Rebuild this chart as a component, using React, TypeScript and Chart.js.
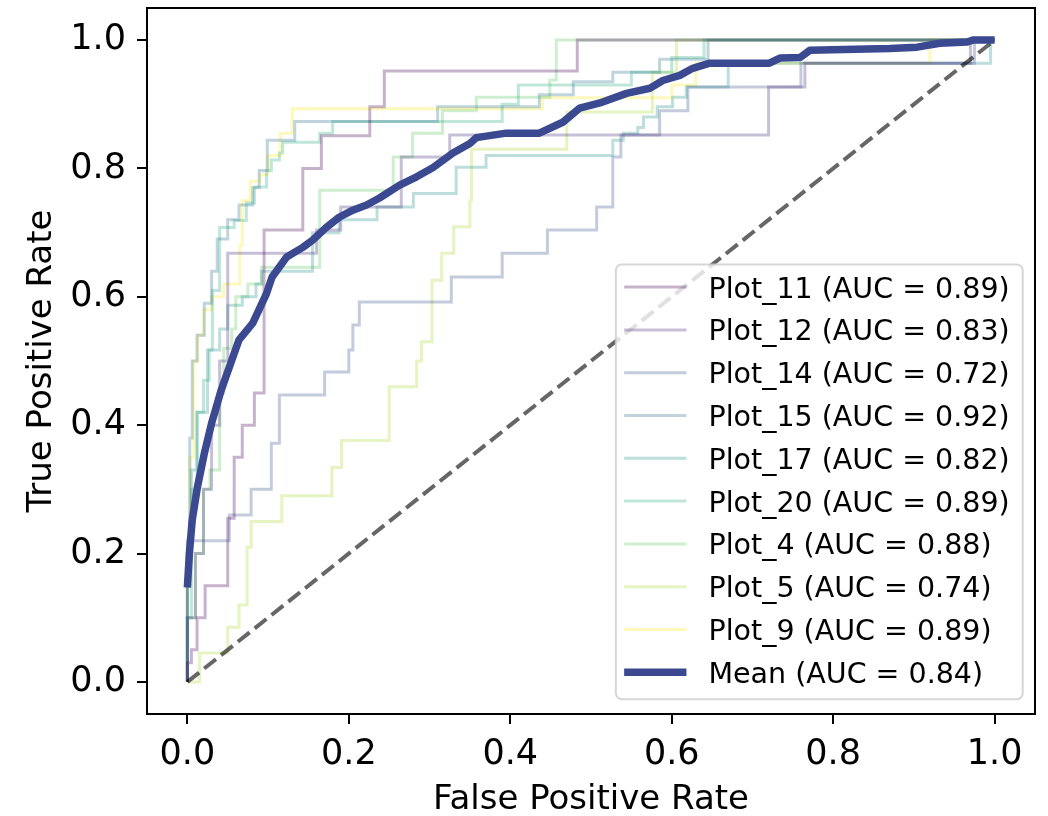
import React, { useEffect, useRef } from 'react';
import { Chart, registerables } from 'chart.js';

Chart.register(...registerables);

// ---------- data ----------
const xTickValues = [0, 0.2, 0.4, 0.6, 0.8, 1.0];
const yTickValues = [0, 0.2, 0.4, 0.6, 0.8, 1.0];

const seriesNames = ['Plot_11', 'Plot_12', 'Plot_14', 'Plot_15', 'Plot_17', 'Plot_20', 'Plot_4', 'Plot_5', 'Plot_9'];
const seriesAuc = [0.89, 0.83, 0.72, 0.92, 0.82, 0.89, 0.88, 0.74, 0.89];
const seriesColors = ['#440154', '#472c7a', '#3b528b', '#2c718e', '#21918c', '#27ad81', '#5cc863', '#aadc32', '#fde725'];

// ROC points: [fpr, tpr] after each vertical jump
const plot11 = [[0, 0], [0, 0.03], [0.005, 0.05], [0.012, 0.1], [0.022, 0.15], [0.05, 0.255], [0.058, 0.35], [0.068, 0.4], [0.083, 0.45], [0.095, 0.704], [0.143, 0.8], [0.166, 0.851], [0.226, 0.896], [0.244, 0.952], [0.483, 1.0], [1, 1]];
const plot12 = [[0, 0], [0, 0.1], [0.01, 0.2], [0.02, 0.3], [0.03, 0.4], [0.04, 0.5], [0.05, 0.668], [0.16, 0.704], [0.19, 0.74], [0.265, 0.818], [0.325, 0.852], [0.72, 0.927], [0.765, 0.964], [0.97, 1.0], [1, 1]];
const plot14 = [[0, 0], [0, 0.22], [0.052, 0.26], [0.079, 0.3], [0.104, 0.372], [0.114, 0.447], [0.17, 0.483], [0.2, 0.517], [0.205, 0.556], [0.213, 0.592], [0.327, 0.631], [0.39, 0.668], [0.446, 0.704], [0.507, 0.74], [0.527, 0.818], [0.537, 0.852], [0.585, 0.89], [0.62, 0.927], [0.76, 0.964], [0.975, 1.0], [1, 1]];
const plot15 = [[0, 0], [0, 0.2], [0.003, 0.38], [0.006, 0.5], [0.012, 0.54], [0.021, 0.59], [0.03, 0.64], [0.037, 0.69], [0.05, 0.72], [0.064, 0.743], [0.081, 0.77], [0.089, 0.797], [0.099, 0.844], [0.133, 0.873], [0.31, 0.896], [0.436, 0.915], [0.478, 0.935], [0.527, 0.95], [0.585, 0.97], [0.645, 1.0], [1, 1]];
const plot17 = [[0, 0], [0, 0.2], [0.005, 0.33], [0.012, 0.42], [0.025, 0.517], [0.04, 0.55], [0.05, 0.587], [0.068, 0.6], [0.085, 0.62], [0.092, 0.64], [0.155, 0.7], [0.188, 0.72], [0.235, 0.74], [0.28, 0.761], [0.333, 0.802], [0.37, 0.82], [0.527, 0.844], [0.54, 0.855], [0.558, 0.864], [0.565, 0.88], [0.582, 0.896], [0.601, 0.911], [0.618, 0.927], [0.67, 0.964], [0.995, 1.0], [1, 1]];
const plot20 = [[0, 0], [0, 0.1], [0.005, 0.3], [0.012, 0.42], [0.02, 0.47], [0.027, 0.517], [0.031, 0.61], [0.04, 0.708], [0.058, 0.719], [0.073, 0.746], [0.083, 0.771], [0.098, 0.797], [0.104, 0.813], [0.114, 0.824], [0.118, 0.841], [0.164, 0.855], [0.18, 0.873], [0.39, 0.9], [0.41, 0.93], [0.55, 0.95], [0.6, 0.973], [0.64, 1.0], [1, 1]];
const plot4 = [[0, 0], [0, 0.1], [0.01, 0.2], [0.02, 0.3], [0.028, 0.33], [0.04, 0.45], [0.045, 0.52], [0.055, 0.55], [0.06, 0.6], [0.075, 0.62], [0.092, 0.646], [0.164, 0.766], [0.255, 0.818], [0.279, 0.855], [0.316, 0.89], [0.358, 0.911], [0.449, 0.938], [0.457, 1.0], [1, 1]];
const plot5 = [[0, 0], [0.015, 0.045], [0.05, 0.085], [0.064, 0.12], [0.074, 0.21], [0.079, 0.25], [0.117, 0.29], [0.179, 0.334], [0.191, 0.376], [0.25, 0.46], [0.284, 0.5], [0.29, 0.53], [0.303, 0.626], [0.315, 0.668], [0.33, 0.709], [0.35, 0.75], [0.352, 0.83], [0.47, 0.888], [0.576, 0.95], [0.606, 1.0], [1, 1]];
const plot9 = [[0, 0], [0, 0.15], [0.003, 0.35], [0.008, 0.5], [0.013, 0.54], [0.02, 0.58], [0.03, 0.6], [0.045, 0.62], [0.065, 0.68], [0.068, 0.75], [0.078, 0.78], [0.09, 0.79], [0.1, 0.82], [0.115, 0.855], [0.13, 0.893], [0.44, 0.91], [0.6, 0.93], [0.63, 0.964], [0.92, 1.0], [1, 1]];

const seriesPoints = [plot11, plot12, plot14, plot15, plot17, plot20, plot4, plot5, plot9];

const meanFpr = [0, 0.0025, 0.006, 0.0124, 0.021, 0.03, 0.042, 0.055, 0.064, 0.081, 0.098, 0.105, 0.123, 0.143, 0.155, 0.172, 0.188, 0.205, 0.222, 0.238, 0.263, 0.284, 0.304, 0.329, 0.35, 0.358, 0.395, 0.436, 0.465, 0.486, 0.511, 0.544, 0.573, 0.589, 0.61, 0.626, 0.647, 0.721, 0.734, 0.759, 0.771, 0.87, 0.904, 0.932, 0.966, 0.973, 1.0];
const meanTpr = [0.147, 0.2, 0.252, 0.303, 0.356, 0.403, 0.455, 0.501, 0.533, 0.559, 0.605, 0.631, 0.662, 0.677, 0.688, 0.708, 0.724, 0.735, 0.743, 0.754, 0.774, 0.787, 0.801, 0.824, 0.839, 0.848, 0.855, 0.855, 0.872, 0.894, 0.902, 0.917, 0.925, 0.937, 0.945, 0.956, 0.964, 0.964, 0.972, 0.973, 0.984, 0.987, 0.989, 0.995, 0.997, 1.0, 1.0];
const meanAuc = 0.84;
const meanColor = '#3a4990';

const chanceFpr = [0, 1];
const chanceTpr = [0, 1];

// ---------- helpers ----------
const FONT = '"DejaVu Sans", sans-serif';

function withAlpha(hex: string, a: number) {
  const r = parseInt(hex.slice(1, 3), 16);
  const g = parseInt(hex.slice(3, 5), 16);
  const b = parseInt(hex.slice(5, 7), 16);
  return `rgba(${r},${g},${b},${a})`;
}

const framePlugin = {
  id: 'frameBox',
  afterDatasetsDraw(chart: any) {
    const { ctx, chartArea } = chart;
    ctx.save();
    ctx.strokeStyle = '#000';
    ctx.lineWidth = 2;
    ctx.strokeRect(chartArea.left, chartArea.top, chartArea.right - chartArea.left, chartArea.bottom - chartArea.top);
    ctx.restore();
  },
};

const legendPlugin = {
  id: 'rocLegend',
  afterDraw(chart: any) {
    const { ctx, chartArea } = chart;
    const items = chart.data.datasets.filter((d: any) => d.label);
    const fs = 28.5;
    ctx.save();
    ctx.font = `${fs}px ${FONT}`;
    const maxW = Math.max(...items.map((d: any) => ctx.measureText(d.label).width));
    const rowH = 42.8;
    const padTop = 22.7;
    const padBottom = 27;
    const textOff = 92.6;
    const w = textOff + maxW + 13;
    const h = padTop + rowH * (items.length - 1) + padBottom;
    const x0 = chartArea.right - 12.3 - w;
    const y0 = chartArea.bottom - 14.7 - h;
    ctx.beginPath();
    ctx.roundRect(x0, y0, w, h, 6);
    ctx.fillStyle = 'rgba(255,255,255,0.8)';
    ctx.fill();
    ctx.strokeStyle = 'rgba(204,204,204,0.8)';
    ctx.lineWidth = 2;
    ctx.stroke();
    items.forEach((d: any, i: number) => {
      const y = y0 + padTop + i * rowH;
      ctx.beginPath();
      ctx.moveTo(x0 + 8.3, y);
      ctx.lineTo(x0 + 70.6, y);
      ctx.strokeStyle = d.borderColor;
      ctx.lineWidth = d.borderWidth;
      ctx.lineCap = 'butt';
      ctx.stroke();
      ctx.fillStyle = '#000';
      ctx.textAlign = 'left';
      ctx.textBaseline = 'alphabetic';
      ctx.fillText(d.label, x0 + textOff, y + 0.365 * fs);
    });
    ctx.restore();
  },
};

export default function App() {
  const ref = useRef<HTMLCanvasElement | null>(null);

  useEffect(() => {
    if (!ref.current) return;
    const curveSets = seriesPoints.map((pts, i) => ({
      label: `${seriesNames[i]} (AUC = ${seriesAuc[i].toFixed(2)})`,
      data: pts.map(([x, y]) => ({ x, y })),
      borderColor: withAlpha(seriesColors[i], 0.3),
      backgroundColor: 'transparent',
      borderWidth: 3,
      stepped: true,
      fill: false,
      order: 3,
    }));
    const meanSet = {
      label: `Mean (AUC = ${meanAuc.toFixed(2)})`,
      data: meanFpr.map((x, i) => ({ x, y: meanTpr[i] })),
      borderColor: meanColor,
      backgroundColor: 'transparent',
      borderWidth: 7.5,
      borderJoinStyle: 'round',
      borderCapStyle: 'butt',
      fill: false,
      order: 1,
    };
    const chanceSet = {
      label: '',
      data: chanceFpr.map((x, i) => ({ x, y: chanceTpr[i] })),
      borderColor: 'rgba(0,0,0,0.6)',
      backgroundColor: 'transparent',
      borderWidth: 4,
      borderDash: [15, 6.5],
      fill: false,
      order: 2,
    };

    const tickFont = { family: FONT, size: 35 };
    const titleFont = { family: FONT, size: 34 };

    const chart = new Chart(ref.current, {
      type: 'line',
      data: { datasets: [...curveSets, meanSet, chanceSet] as any },
      options: {
        animation: false,
        responsive: false,
        maintainAspectRatio: false,
        devicePixelRatio: 1,
        events: [],
        layout: { padding: { left: 0, right: 13, top: 8, bottom: 0 } },
        elements: { point: { radius: 0, hoverRadius: 0 }, line: { tension: 0 } },
        plugins: { legend: { display: false }, tooltip: { enabled: false }, title: { display: false } },
        scales: {
          x: {
            type: 'linear',
            min: -0.05,
            max: 1.05,
            afterBuildTicks: (s: any) => {
              s.ticks = xTickValues.map((v) => ({ value: v }));
            },
            afterFit: (s: any) => {
              s.height = 102;
              s.paddingLeft = 0;
              s.paddingRight = 0;
            },
            ticks: {
              callback: (v: any) => Number(v).toFixed(1),
              font: tickFont,
              color: '#000',
              padding: 10,
              maxRotation: 0,
              autoSkip: false,
            },
            grid: { display: true, drawOnChartArea: false, drawTicks: true, tickLength: 10, tickWidth: 2, lineWidth: 2, tickColor: '#000', color: '#000' },
            border: { display: false },
            title: { display: true, text: 'False Positive Rate', font: titleFont, color: '#000', padding: { top: 0, bottom: -4.3 } },
          },
          y: {
            type: 'linear',
            min: -0.05,
            max: 1.05,
            afterBuildTicks: (s: any) => {
              s.ticks = yTickValues.map((v) => ({ value: v }));
            },
            afterFit: (s: any) => {
              s.width = 147;
              s.paddingTop = 0;
              s.paddingBottom = 0;
            },
            ticks: {
              callback: (v: any) => Number(v).toFixed(1),
              font: tickFont,
              color: '#000',
              padding: 11,
              autoSkip: false,
            },
            grid: { display: true, drawOnChartArea: false, drawTicks: true, tickLength: 10, tickWidth: 2, lineWidth: 2, tickColor: '#000', color: '#000' },
            border: { display: false },
            title: { display: true, text: 'True Positive Rate', font: titleFont, color: '#000', padding: { top: 21.5, bottom: 0 } },
          },
        },
      } as any,
      plugins: [framePlugin, legendPlugin],
    });
    return () => chart.destroy();
  }, []);

  return (
    <div style={{ position: 'absolute', left: 0, top: 0, width: 1048, height: 816, background: '#fff' }}>
      <canvas ref={ref} width={1048} height={816} style={{ display: 'block' }} />
    </div>
  );
}
